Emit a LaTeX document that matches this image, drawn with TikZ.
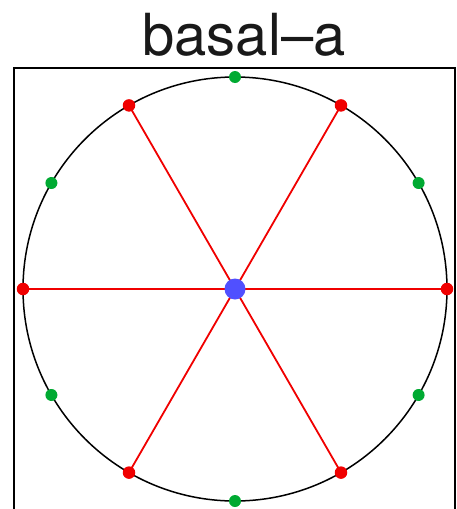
\documentclass[tikz,border=0pt]{standalone}
\usepackage{fontspec}
\setmainfont{TeX Gyre Heros}
\definecolor{dotred}{RGB}{240,0,0}
\definecolor{dotgreen}{RGB}{0,170,50}
\definecolor{dotblue}{RGB}{80,80,255}
\definecolor{titlegray}{RGB}{25,25,25}
\tikzset{
  reddot/.style={circle,fill=dotred,inner sep=0pt,minimum size=12.5pt},
  greendot/.style={circle,fill=dotgreen,inner sep=0pt,minimum size=12pt},
  bluedot/.style={circle,fill=dotblue,inner sep=0pt,minimum size=21pt}
}

\begin{document}
\begin{tikzpicture}[x=1pt,y=-1pt]
 \useasboundingbox (0,0) rectangle (457,509);
 \node[anchor=base,text=titlegray] (title) at (244,55) {\fontsize{58}{60}\selectfont basal--a};
 \draw[line width=2pt] (14,509) |- (455,68) -- (455,509);
 \coordinate (o) at (235,289);
 \draw[line width=1.5pt] (o) circle (212);
 % red spokes and green points on the ring
 \foreach \i in {0,...,5}
  {
   \node[reddot] (r\i) at ([shift={(o)}]\i*60:212) {};
   \node[greendot] (g\i) at ([shift={(o)}]\i*60+30:212) {};
   \draw[dotred,line width=1.8pt] (o) -- (r\i.center);
  }
 \node[bluedot] (c) at (o) {};
\end{tikzpicture}
\end{document}
